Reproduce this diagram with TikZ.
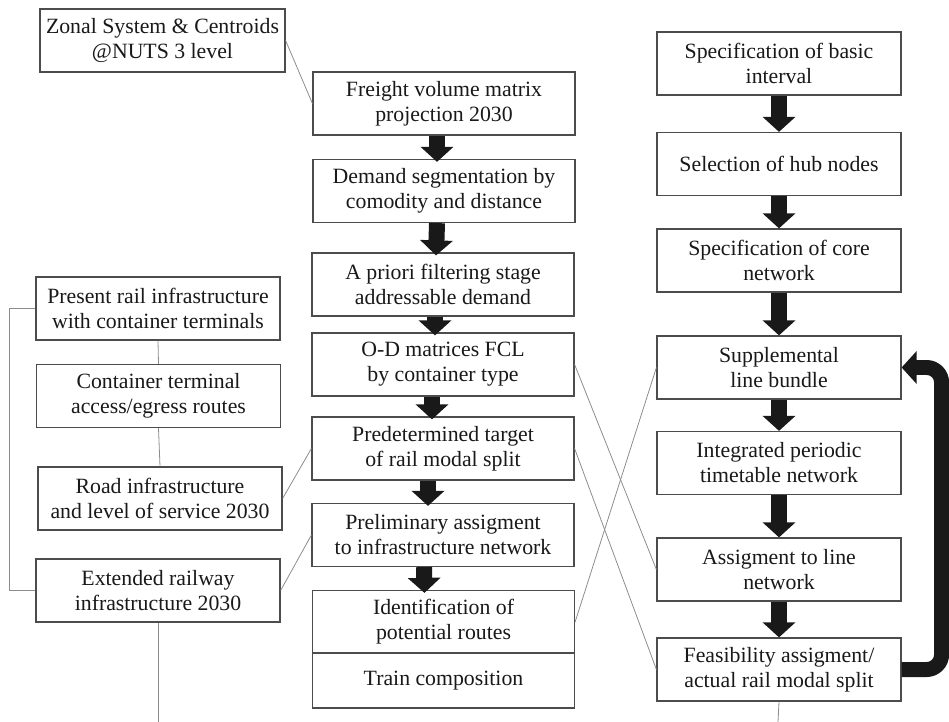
\documentclass[tikz,border=0pt]{standalone}
\usepackage{fontspec}
\setmainfont{Liberation Serif}
\usetikzlibrary{arrows.meta,positioning,calc}
\tikzset{
  dob/.style={draw=black!70,fill=white,line width=0.7pt,align=center,inner sep=2pt,
    minimum height=1.26cm,text=black!90,font=\fontsize{12.4}{14.2}\selectfont},
  dobk/.style={dob,minimum width=4.88cm},
  dobs/.style={dob,minimum width=5.24cm},
  vonal/.style={draw=black!45,line width=0.45pt},
  nyil/.style={line width=0.32cm,black!90,-{Triangle[length=0.3cm,width=0.64cm]}},
}
\begin{document}
\begin{tikzpicture}[x=0.02cm,y=-0.02cm]
  \useasboundingbox (0,0) rectangle (949,722);
  % bal oszlop
  \node[dobk,minimum width=4.9cm] (zonal) at (162.5,40.5) {Zonal System \& Centroids\\@NUTS 3 level};
  \node[dobk] (present) at (158,308.5) {Present rail infrastructure\\with container terminals};
  \node[dobk] (container) at (158.5,396) {Container terminal\\access/egress routes};
  \node[dobk] (road) at (160,498.5) {Road infrastructure\\and level of service 2030};
  \node[dobk] (extended) at (158,590.5) {Extended railway\\infrastructure 2030};
  % kozepso oszlop
  \node[dobs] (freight) at (444,103.5) {Freight volume matrix\\projection 2030};
  \node[dobs] (demand) at (444,191) {Demand segmentation by\\comodity and distance};
  \node[dobs] (apriori) at (443,284.5) {A priori filtering stage\\addressable demand};
  \node[dobs] (od) at (443,364.5) {O-D matrices FCL\\by container type};
  \node[dobs] (predet) at (443,448.5) {Predetermined target\\of rail modal split};
  \node[dobs] (prelim) at (443,535) {Preliminary assigment\\to infrastructure network};
  \node[dobs] (ident) at (443.5,622) {Identification of\\potential routes};
  \node[dobs,minimum height=1.1cm] (train) at (443.5,680.5) {Train composition};
  % jobb oszlop
  \node[dobk] (basic) at (779,63.5) {Specification of basic\\interval};
  \node[dobk] (hub) at (779,164) {Selection of hub nodes};
  \node[dobk] (core) at (779,260.5) {Specification of core\\network};
  \node[dobk] (suppl) at (779,367.5) {Supplemental\\line bundle};
  \node[dobk] (integ) at (779,463) {Integrated periodic\\timetable network};
  \node[dobk] (assig) at (779,569.5) {Assigment to line\\network};
  \node[dobk] (feas) at (779,669.5) {Feasibility assigment/\\actual rail modal split};
  \coordinate (ealja) at (158,722);
  \coordinate (falja) at (778,722);
  % vekony kapcsolatok
  \draw[vonal] (zonal.east) -- (freight.west);
  \draw[vonal] (present.south) -- (container.north);
  \draw[vonal] (container.south) -- (road.north);
  \draw[vonal] (present.west) -- ++(-26,0) |- (extended.west);
  \draw[vonal] (extended.south) -- (ealja);
  \draw[vonal] (road.east) -- (predet.west);
  \draw[vonal] (extended.east) -- (prelim.west);
  \draw[vonal] (od.east) -- (assig.west);
  \draw[vonal] (predet.east) -- (feas.west);
  \draw[vonal] (ident.east) -- (suppl.west);
  \draw[vonal] (feas.south) -- (falja);
  % vastag nyilak
  \foreach \a/\b/\s in {freight/demand/-0.14,demand/apriori/-0.14,apriori/od/-0.16,
      od/predet/-0.22,predet/prelim/-0.3,prelim/ident/-0.38}
    \draw[nyil] ([xshift=\s cm]\a.south) -- ([xshift=\s cm,yshift=-0.06cm]\b.north);
  \foreach \a/\b in {basic/hub,hub/core,core/suppl,suppl/integ,integ/assig,assig/feas}
    \draw[nyil] (\a.south) -- (\b.north);
  \draw[nyil,line width=0.3cm,rounded corners=0.3cm] (feas.east) -- ++(40,0) |- (suppl.east);
\end{tikzpicture}
\end{document}
